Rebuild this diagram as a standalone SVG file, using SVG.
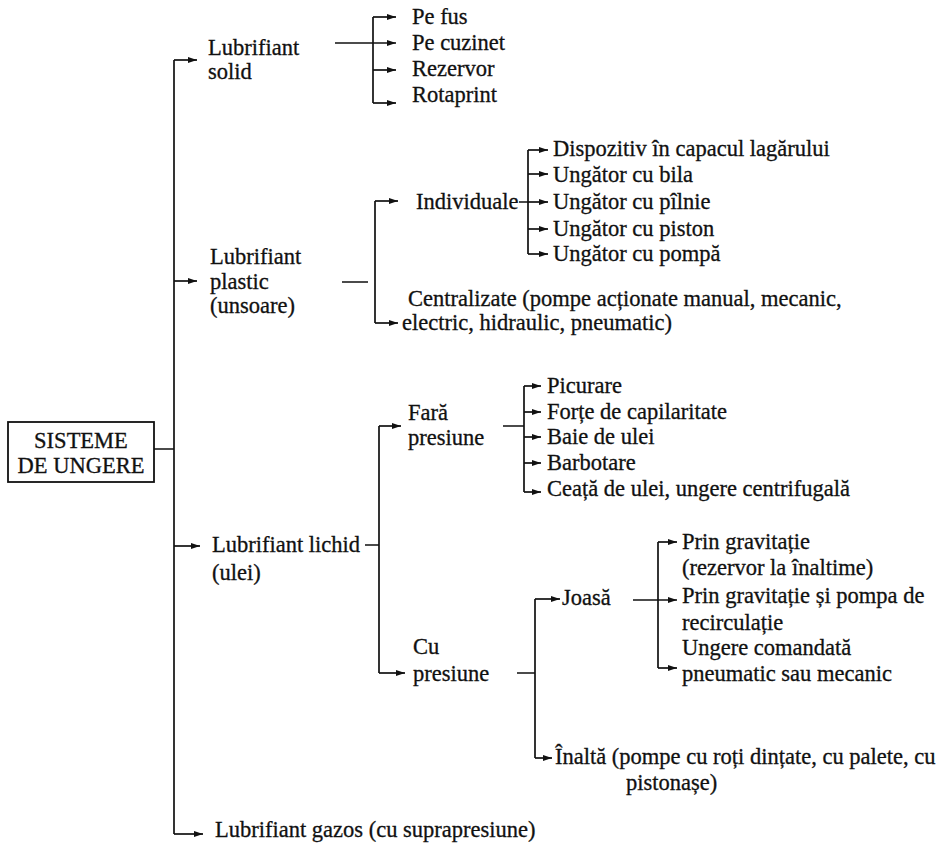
<svg xmlns="http://www.w3.org/2000/svg" width="952" height="844" viewBox="0 0 952 844">
<defs>
<marker id="ah" markerUnits="userSpaceOnUse" markerWidth="10" markerHeight="7" refX="9" refY="3.5" orient="auto">
<path d="M0,0.6 L9,3.5 L0,6.4 Z" fill="#111"/>
</marker>
<style>
.t text{font-size:22.5px;fill:#111;stroke:#111;stroke-width:0.3}
.c{text-anchor:middle}
.ln{fill:none;stroke:#111;stroke-width:1.7}
.ar{fill:none;stroke:#111;stroke-width:1.7;marker-end:url(#ah)}
</style>
</defs>
<rect width="952" height="844" fill="#fff"/>
<g id="connectors">
<path class="ln" d="M154 449 H174 M174 60 V834"/>
<path class="ar" d="M174 60 H197"/>
<path class="ar" d="M174 281 H197"/>
<path class="ar" d="M174 546 H200"/>
<path class="ar" d="M174 834 H203"/>
<path class="ar" d="M335 43 H396"/>
<path class="ln" d="M373 17 V103"/>
<path class="ar" d="M373 17 H396"/>
<path class="ar" d="M373 70 H396"/>
<path class="ar" d="M373 103 H396"/>
<path class="ln" d="M342 282 H368 M375 201 V323"/>
<path class="ar" d="M375 201 H398"/>
<path class="ar" d="M375 323 H398"/>
<path class="ln" d="M519 202 H528 M528 150 V254"/>
<path class="ar" d="M528 150 H548"/>
<path class="ar" d="M528 174 H548"/>
<path class="ar" d="M528 202 H548"/>
<path class="ar" d="M528 229 H548"/>
<path class="ar" d="M528 254 H548"/>
<path class="ln" d="M365 545 H379 M379 426 V673"/>
<path class="ar" d="M379 426 H401"/>
<path class="ar" d="M379 673 H405"/>
<path class="ln" d="M503 426 H524 M524 386 V492"/>
<path class="ar" d="M524 386 H541"/>
<path class="ar" d="M524 412 H541"/>
<path class="ar" d="M524 437 H541"/>
<path class="ar" d="M524 463 H541"/>
<path class="ar" d="M524 492 H541"/>
<path class="ln" d="M517 673 H535 M535 599 V758"/>
<path class="ar" d="M535 599 H560"/>
<path class="ar" d="M535 758 H552"/>
<path class="ar" d="M633 600 H677"/>
<path class="ln" d="M658 542 V668"/>
<path class="ar" d="M658 542 H677"/>
<path class="ar" d="M658 668 H677"/>
</g>
<g class="t" font-family="'Liberation Serif', Tinos, 'DejaVu Serif', 'Times New Roman', serif">
<g id="root">
<rect x="8" y="422" width="146" height="60" fill="none" stroke="#111" stroke-width="1.8"/>
<text class="c" x="81" y="448">SISTEME</text>
<text class="c" x="81" y="473">DE UNGERE</text>
</g>
<g id="solid">
<text x="208" y="55">Lubrifiant</text>
<text x="208" y="79">solid</text>
</g>
<g id="solid-items">
<text x="412" y="24">Pe fus</text>
<text x="412" y="50">Pe cuzinet</text>
<text x="412" y="76">Rezervor</text>
<text x="412" y="102">Rotaprint</text>
</g>
<g id="plastic">
<text x="210" y="264">Lubrifiant</text>
<text x="210" y="289">plastic</text>
<text x="210" y="313">(unsoare)</text>
</g>
<g id="individuale">
<text x="416" y="209">Individuale</text>
</g>
<g id="individuale-items">
<text x="553" y="156">Dispozitiv în capacul lagărului</text>
<text x="553" y="182">Ungător cu bila</text>
<text x="553" y="209">Ungător cu pîlnie</text>
<text x="553" y="236">Ungător cu piston</text>
<text x="553" y="261">Ungător cu pompă</text>
</g>
<g id="centralizate">
<text x="408" y="306">Centralizate (pompe acționate manual, mecanic,</text>
<text x="402" y="330">electric, hidraulic, pneumatic)</text>
</g>
<g id="lichid">
<text x="212" y="552">Lubrifiant lichid</text>
<text x="212" y="580">(ulei)</text>
</g>
<g id="fara">
<text x="408" y="420">Fară</text>
<text x="408" y="445">presiune</text>
</g>
<g id="fara-items">
<text x="547" y="393">Picurare</text>
<text x="547" y="419">Forțe de capilaritate</text>
<text x="547" y="444">Baie de ulei</text>
<text x="547" y="470">Barbotare</text>
<text x="547" y="496">Ceață de ulei, ungere centrifugală</text>
</g>
<g id="cu">
<text x="413" y="654">Cu</text>
<text x="413" y="681">presiune</text>
</g>
<g id="joasa">
<text x="562" y="605">Joasă</text>
</g>
<g id="joasa-items">
<text x="682" y="549">Prin gravitație</text>
<text x="682" y="575">(rezervor la înaltime)</text>
<text x="682" y="603">Prin gravitație și pompa de</text>
<text x="682" y="630">recirculație</text>
<text x="682" y="655">Ungere comandată</text>
<text x="682" y="681">pneumatic sau mecanic</text>
</g>
<g id="inalta">
<text x="555" y="764">Înaltă (pompe cu roți dințate, cu palete, cu</text>
<text x="626" y="790">pistonașe)</text>
</g>
<g id="gazos">
<text x="215" y="837">Lubrifiant gazos (cu suprapresiune)</text>
</g>
</g>
</svg>
